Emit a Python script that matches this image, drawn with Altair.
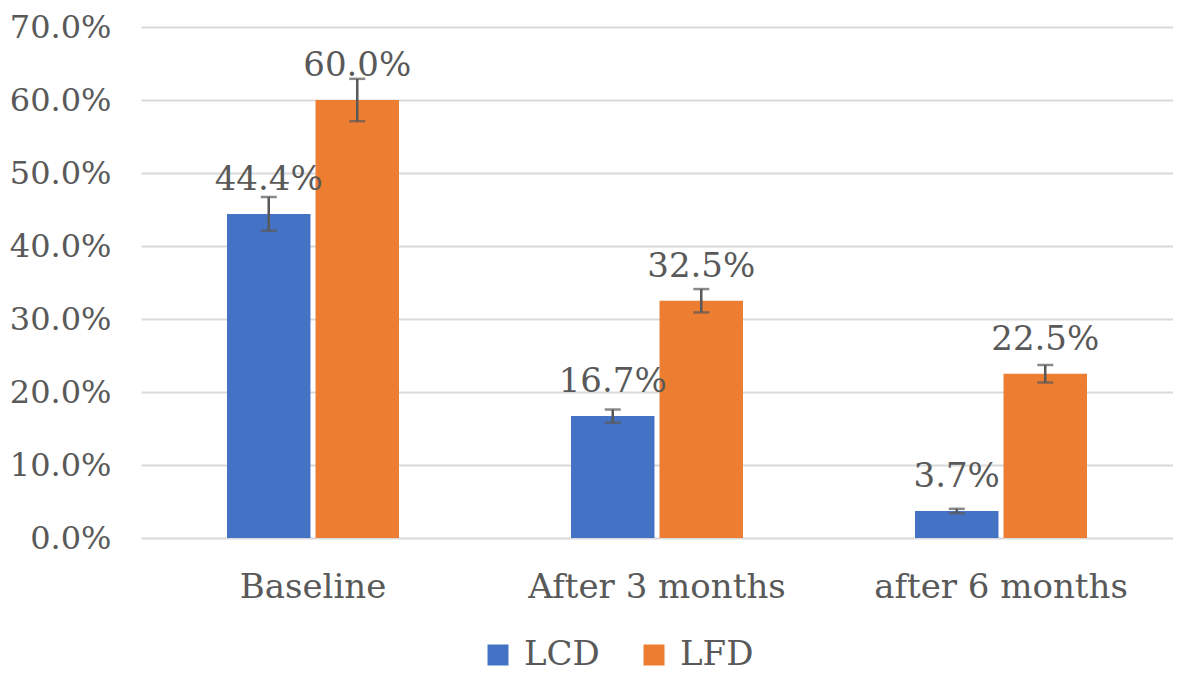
import altair as alt
import pandas as pd

categories = ["Baseline", "After 3 months", "after 6 months"]
series = ["LCD", "LFD"]
lcd_values = [0.444, 0.167, 0.037]
lfd_values = [0.600, 0.325, 0.225]
lcd_errors = [0.023, 0.009, 0.003]
lfd_errors = [0.029, 0.016, 0.012]
y_ticks = [0.0, 0.1, 0.2, 0.3, 0.4, 0.5, 0.6, 0.7]
colors = ["#4472C4", "#ED7D31"]

FONT = "DejaVu Serif"
TXT = "#595959"

rows = []
for i, c in enumerate(categories):
    for s, vals, errs in (("LCD", lcd_values, lcd_errors), ("LFD", lfd_values, lfd_errors)):
        rows.append({"category": c, "series": s, "value": vals[i],
                     "lo": vals[i] - errs[i], "hi": vals[i] + errs[i]})
df = pd.DataFrame(rows)

x = alt.X("category:N", sort=categories,
          scale=alt.Scale(paddingInner=0.5, paddingOuter=0.25),
          axis=alt.Axis(title=None, labelAngle=0, domain=False, ticks=False,
                        labelFontSize=34, labelPadding=32, labelColor=TXT,
                        labelFont=FONT, labelBaseline="top", labelLimit=0))
xo = alt.XOffset("series:N", sort=series, scale=alt.Scale(paddingInner=0.057, paddingOuter=0))
yscale = alt.Scale(domain=[0, 0.7], nice=False, zero=True)
y = alt.Y("value:Q", scale=yscale,
          axis=alt.Axis(title=None, values=y_ticks, format=".1%", domain=False, ticks=False,
                        grid=True, gridColor="#d9d9d9", gridWidth=2, labelLimit=0,
                        labelFontSize=32, labelPadding=30, labelColor=TXT, labelFont=FONT))

base = alt.Chart(df)

bars = base.mark_bar().encode(
    x=x, xOffset=xo, y=y,
    color=alt.Color("series:N", sort=series,
                    scale=alt.Scale(domain=series, range=colors),
                    legend=alt.Legend(orient="none", legendX=340, legendY=611,
                                      direction="horizontal", title=None,
                                      symbolType="square", symbolSize=441,
                                      symbolStrokeWidth=0, labelFontSize=34,
                                      labelFont=FONT, labelColor=TXT, labelLimit=0,
                                      labelOffset=9, columnPadding=37, padding=0)),
)

err = base.mark_rule(color="#595959", strokeWidth=2.5).encode(
    x=x, xOffset=xo, y=alt.Y("lo:Q", scale=yscale), y2="hi:Q")
cap_hi = base.mark_tick(color="#595959", thickness=2.5, size=16, orient="horizontal").encode(
    x=x, xOffset=xo, y=alt.Y("hi:Q", scale=yscale))
cap_lo = base.mark_tick(color="#595959", thickness=2.5, size=16, orient="horizontal").encode(
    x=x, xOffset=xo, y=alt.Y("lo:Q", scale=yscale))

labels = base.mark_text(dy=-24, baseline="alphabetic", fontSize=34, font=FONT, color=TXT).encode(
    x=x, xOffset=xo, y=alt.Y("value:Q", scale=yscale),
    text=alt.Text("value:Q", format=".1%"))

chart = alt.layer(bars, err, cap_hi, cap_lo, labels).properties(
    width=1032, height=511,
    autosize=alt.AutoSizeParams(type="none"),
    padding={"left": 133, "top": 19, "right": 0, "bottom": 134},
).configure_view(stroke=None)

chart.save("out.html", embed_options={"renderer": "svg", "actions": False})
